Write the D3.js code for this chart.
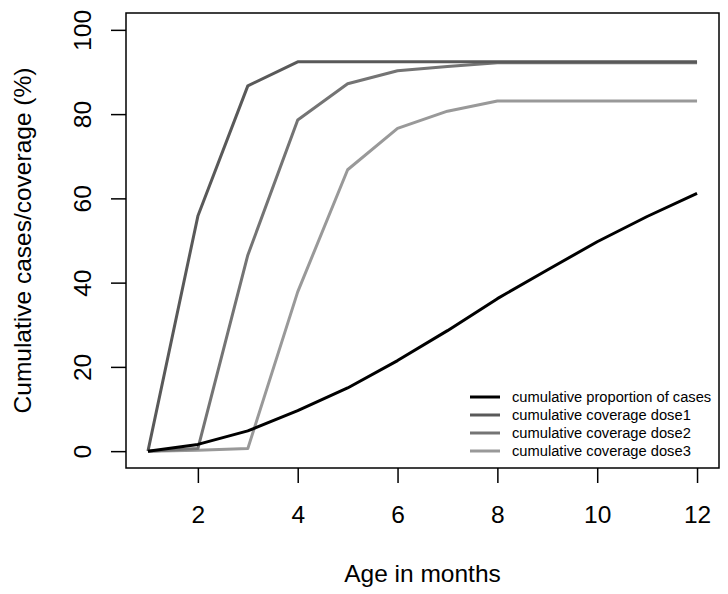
<!DOCTYPE html>
<html><head><meta charset="utf-8">
<script src="https://cdn.jsdelivr.net/npm/d3@7"></script>
<style>body{margin:0;background:#fff}svg{display:block}text{font-family:"Liberation Sans",Arial,sans-serif}</style>
</head><body><svg id="c" width="728" height="594"></svg>
<script>
const months = [1,2,3,4,5,6,7,8,9,10,11,12];
const cases = [0,1.6,4.8,9.6,15,21.5,28.6,36.2,43,49.7,55.7,61.2];
const dose1 = [0,55.8,86.7,92.4,92.4,92.4,92.4,92.4,92.4,92.4,92.4,92.4];
const dose2 = [0,0.6,46.5,78.6,87.2,90.3,91.3,92.2,92.2,92.2,92.2,92.2];
const dose3 = [0,0.2,0.6,37.8,66.8,76.6,80.7,83.1,83.1,83.1,83.1,83.1];
const seriesNames = ["cumulative proportion of cases","cumulative coverage dose1","cumulative coverage dose2","cumulative coverage dose3"];
const seriesColors = ["#000000","#595959","#747474","#999999"];
const xTicks = [2,4,6,8,10,12];
const yTicks = [0,20,40,60,80,100];

const svg = d3.select("#c");
const L=126,R=719,T=13,B=468;
const FS=24.5;
const x = d3.scaleLinear().domain([0.56,12.44]).range([L,R]);
const y = d3.scaleLinear().domain([-4,104]).range([B,T]);

const line = d3.line().x((d,i)=>x(months[i])).y(d=>y(d));
const all = [cases,dose1,dose2,dose3];
[3,2,1,0].forEach(k=>{
  svg.append("path").attr("d",line(all[k])).attr("fill","none")
    .attr("stroke",seriesColors[k]).attr("stroke-width",3).attr("stroke-linejoin","round");
});

svg.append("rect").attr("x",L).attr("y",T).attr("width",R-L).attr("height",B-T)
  .attr("fill","none").attr("stroke","#000").attr("stroke-width",1.5);

const xa = svg.append("g").attr("transform",`translate(0,${B})`)
  .call(d3.axisBottom(x).tickValues(xTicks).tickSize(15).tickFormat(d3.format("d")));
xa.select(".domain").remove();
xa.selectAll("line").attr("stroke","#000").attr("stroke-width",1.5);
xa.selectAll("text").attr("font-size",FS).attr("fill","#000").attr("font-family","Liberation Sans, Arial, sans-serif")
  .attr("dy",null).attr("y",523-B);

const ya = svg.append("g").attr("transform",`translate(${L},0)`)
  .call(d3.axisLeft(y).tickValues(yTicks).tickSize(15).tickFormat(d3.format("d")));
ya.select(".domain").remove();
ya.selectAll("line").attr("stroke","#000").attr("stroke-width",1.5);
ya.selectAll("text").attr("font-size",FS).attr("fill","#000").attr("font-family","Liberation Sans, Arial, sans-serif")
  .attr("x",null).attr("dy",null).attr("text-anchor","middle")
  .attr("transform",`translate(${91-L},0) rotate(-90)`);

svg.append("text").attr("x",(L+R)/2).attr("y",582).attr("text-anchor","middle")
  .attr("font-size",FS).text("Age in months");
svg.append("text").attr("transform",`translate(31,${(T+B)/2}) rotate(-90)`).attr("text-anchor","middle")
  .attr("font-size",FS).text("Cumulative cases/coverage (%)");

const lg = svg.append("g");
seriesNames.forEach((n,i)=>{
  const yy = 397 + i*18;
  lg.append("line").attr("x1",470).attr("x2",500).attr("y1",yy).attr("y2",yy)
    .attr("stroke",seriesColors[i]).attr("stroke-width",3);
  lg.append("text").attr("x",512).attr("y",yy+5).attr("font-size",14.7).text(n);
});
</script></body></html>
